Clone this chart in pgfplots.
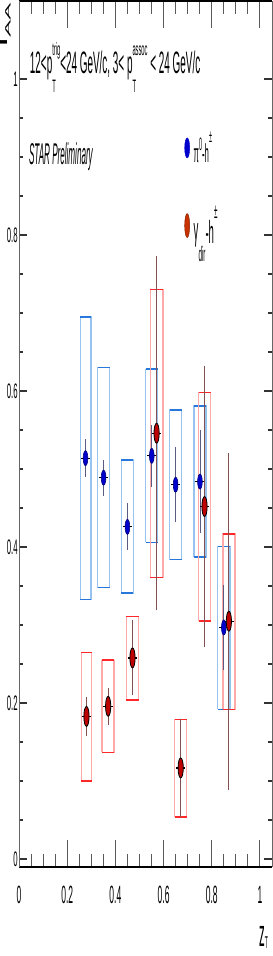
\documentclass[border=0pt]{standalone}
\usepackage{fontspec}
\setmainfont{Liberation Sans}
\usepackage{graphicx}
\usepackage{pgfplots}
\pgfplotsset{compat=1.18}
\definecolor{bmark}{RGB}{0,0,205}
\definecolor{rmark}{RGB}{190,0,0}
\definecolor{lred}{RGB}{200,50,0}
\definecolor{bside}{RGB}{150,195,240}
\definecolor{bedge}{RGB}{40,120,220}
\definecolor{rside}{RGB}{255,170,170}
\definecolor{redge}{RGB}{255,40,40}
\definecolor{bstat}{RGB}{90,90,130}
\definecolor{rstat}{RGB}{130,80,80}
\newcommand{\ssp}[3]{\makebox[0pt][l]{\raisebox{-0.6em}{\fontsize{#3}{#3}\selectfont #1}}\raisebox{0.58em}{\fontsize{#3}{#3}\selectfont #2}}
\pgfplotsset{frame/.style={
  scale only axis, width=253bp, height=866bp,
  at={(0,0)}, anchor=south west,
  xmin=0, xmax=1.05, ymin=-0.01, ymax=1.1,
  tick align=inside,
  separate axis lines,
  x axis line style={line width=2.6bp, black},
  y axis line style={line width=0.9bp, black!60},
  /pgf/number format/assume math mode=true,
}}
\begin{document}
\begin{tikzpicture}
\useasboundingbox (-19bp,-89bp) rectangle (254bp,867bp);
% x ticks only (long vertical ticks)
\begin{axis}[frame,
  xtick={0,0.2,0.4,0.6,0.8,1}, ytick=\empty,
  minor x tick num=3,
  major tick length=27bp, minor tick length=13bp,
  xtick style={line width=1bp, black!65},
  xticklabel style={font=\fontsize{25bp}{25bp}\selectfont, xscale=0.34, yshift=-16bp},
]
\end{axis}
% main axis with y ticks and data
\begin{axis}[frame,
  xtick=\empty, ytick={0,0.2,0.4,0.6,0.8,1},
  minor y tick num=3,
  major tick length=8bp, minor tick length=4bp,
  ytick style={line width=1.4bp, black!80},
  yticklabel style={font=\fontsize{21bp}{21bp}\selectfont, xscale=0.37},
  ylabel={\scalebox{1}[0.3]{\fontsize{37bp}{37bp}\selectfont I\raisebox{-0.25em}{\fontsize{26bp}{26bp}\selectfont AA}}},
  ylabel style={at={(axis description cs:-0.075,0.998)}, anchor=north east, inner sep=0pt},
  unbounded coords=jump,
  clip=false,
  legend style={at={(axis description cs:0.654,0.850)}, anchor=north west, draw=none, fill=none, inner sep=0pt, row sep=40bp, column sep=3bp, nodes={inner sep=1bp, anchor=west}},
  legend cell align=left,
  legend image code/.code={\draw[#1] plot coordinates {(0bp,0bp)};},
]
% blue systematic boxes
\addplot[bside, line width=1.4bp, forget plot] coordinates {
 (0.254,0.333) (0.254,0.695) (0.298,0.695) (0.298,0.333) (0.254,0.333) (nan,nan)
 (0.326,0.348) (0.326,0.630) (0.376,0.630) (0.376,0.348) (0.326,0.348) (nan,nan)
 (0.425,0.341) (0.425,0.512) (0.475,0.512) (0.475,0.341) (0.425,0.341) (nan,nan)
 (0.526,0.406) (0.526,0.628) (0.576,0.628) (0.576,0.406) (0.526,0.406) (nan,nan)
 (0.625,0.384) (0.625,0.576) (0.675,0.576) (0.675,0.384) (0.625,0.384) (nan,nan)
 (0.726,0.387) (0.726,0.581) (0.776,0.581) (0.776,0.387) (0.726,0.387) (nan,nan)
 (0.825,0.192) (0.825,0.401) (0.875,0.401) (0.875,0.192) (0.825,0.192)
};
\addplot[bedge, line width=1.6bp, forget plot] coordinates {
 (0.254,0.695) (0.298,0.695) (nan,nan) (0.254,0.333) (0.298,0.333) (nan,nan)
 (0.326,0.630) (0.376,0.630) (nan,nan) (0.326,0.348) (0.376,0.348) (nan,nan)
 (0.425,0.512) (0.475,0.512) (nan,nan) (0.425,0.341) (0.475,0.341) (nan,nan)
 (0.526,0.628) (0.576,0.628) (nan,nan) (0.526,0.406) (0.576,0.406) (nan,nan)
 (0.625,0.576) (0.675,0.576) (nan,nan) (0.625,0.384) (0.675,0.384) (nan,nan)
 (0.726,0.581) (0.776,0.581) (nan,nan) (0.726,0.387) (0.776,0.387) (nan,nan)
 (0.825,0.401) (0.875,0.401) (nan,nan) (0.825,0.192) (0.875,0.192)
};
% red systematic boxes
\addplot[rside, line width=1.4bp, forget plot] coordinates {
 (0.259,0.100) (0.259,0.265) (0.301,0.265) (0.301,0.100) (0.259,0.100) (nan,nan)
 (0.345,0.137) (0.345,0.255) (0.395,0.255) (0.395,0.137) (0.345,0.137) (nan,nan)
 (0.446,0.204) (0.446,0.311) (0.496,0.311) (0.496,0.204) (0.446,0.204) (nan,nan)
 (0.545,0.361) (0.545,0.730) (0.597,0.730) (0.597,0.361) (0.545,0.361) (nan,nan)
 (0.646,0.054) (0.646,0.179) (0.696,0.179) (0.696,0.054) (0.646,0.054) (nan,nan)
 (0.745,0.305) (0.745,0.598) (0.795,0.598) (0.795,0.305) (0.745,0.305) (nan,nan)
 (0.846,0.192) (0.846,0.417) (0.896,0.417) (0.896,0.192) (0.846,0.192)
};
\addplot[redge, line width=1.6bp, forget plot] coordinates {
 (0.259,0.265) (0.301,0.265) (nan,nan) (0.259,0.100) (0.301,0.100) (nan,nan)
 (0.345,0.255) (0.395,0.255) (nan,nan) (0.345,0.137) (0.395,0.137) (nan,nan)
 (0.446,0.311) (0.496,0.311) (nan,nan) (0.446,0.204) (0.496,0.204) (nan,nan)
 (0.545,0.730) (0.597,0.730) (nan,nan) (0.545,0.361) (0.597,0.361) (nan,nan)
 (0.646,0.179) (0.696,0.179) (nan,nan) (0.646,0.054) (0.696,0.054) (nan,nan)
 (0.745,0.598) (0.795,0.598) (nan,nan) (0.745,0.305) (0.795,0.305) (nan,nan)
 (0.846,0.417) (0.896,0.417) (nan,nan) (0.846,0.192) (0.896,0.192)
};
% blue statistical errors
\addplot[draw=none, mark=none, forget plot, error bars/.cd, y dir=both, y explicit, error mark=none,
  error bar style={bstat, line width=0.9bp}] table[x=x, y=y, y error=e] {
x y e
0.276 0.514 0.024
0.351 0.489 0.023
0.450 0.426 0.030
0.551 0.517 0.040
0.650 0.480 0.048
0.751 0.484 0.066
0.850 0.297 0.055
};
\addplot[draw=none, mark=none, forget plot, error bars/.cd, x dir=both, x explicit, error mark=none,
  error bar style={black, line width=1.3bp}] table[x=x, y=y, x error=e] {
x y e
0.276 0.514 0.02
0.351 0.489 0.02
0.450 0.426 0.02
0.551 0.517 0.02
0.650 0.480 0.02
0.751 0.484 0.02
0.850 0.297 0.02
};
\addplot[only marks, mark=*, mark size=7.5bp, mark options={xscale=0.31, fill=bmark, draw=bmark!60!black, line width=0.6bp}, forget plot] table[x=x, y=y] {
x y
0.276 0.514
0.351 0.489
0.450 0.426
0.551 0.517
0.650 0.480
0.751 0.484
0.850 0.297
};
% red statistical errors
\addplot[draw=none, mark=none, forget plot, error bars/.cd, y dir=both, y explicit, error mark=none,
  error bar style={rstat, line width=0.9bp}] table[x=x, y=y, y error=e] {
x y e
0.280 0.183 0.025
0.370 0.196 0.024
0.471 0.258 0.048
0.571 0.546 0.227
0.671 0.117 0.063
0.770 0.452 0.180
0.871 0.305 0.216
};
\addplot[draw=none, mark=none, forget plot, error bars/.cd, x dir=both, x explicit, error mark=none,
  error bar style={black, line width=1.3bp}] table[x=x, y=y, x error=e] {
x y e
0.280 0.183 0.02
0.370 0.196 0.02
0.471 0.258 0.02
0.571 0.546 0.02
0.671 0.117 0.02
0.770 0.452 0.02
0.871 0.305 0.02
};
\addplot[only marks, mark=*, mark size=10bp, mark options={xscale=0.26, fill=rmark, draw=black, line width=0.8bp}, forget plot] table[x=x, y=y] {
x y
0.280 0.183
0.370 0.196
0.471 0.258
0.571 0.546
0.671 0.117
0.770 0.452
0.871 0.305
};
% legend
\addlegendimage{only marks, mark=*, mark size=10bp, mark options={xscale=0.25, fill=bmark, draw=bmark}}
\addlegendentry{\scalebox{0.3}[1]{\fontsize{26bp}{26bp}\selectfont π\raisebox{0.45em}{\fontsize{18bp}{18bp}\selectfont 0}-h\raisebox{0.75em}{\fontsize{18bp}{18bp}\selectfont ±}}}
\addlegendimage{only marks, mark=*, mark size=12bp, mark options={xscale=0.21, fill=lred, draw=lred!60!black}}
\addlegendentry{\scalebox{0.3}[1]{\fontsize{32bp}{32bp}\selectfont\raisebox{0.12em}{γ}\raisebox{-0.55em}{\fontsize{21bp}{21bp}\selectfont dir}-h\raisebox{0.8em}{\fontsize{21bp}{21bp}\selectfont ±}}}
% texts
\node[anchor=base west, xscale=0.32, inner sep=0pt] at (rel axis cs:0.043,0.916)
  {\fontsize{31bp}{36bp}\selectfont 12<p\ssp{T}{trig}{18bp}<24 GeV/c, 3< p\ssp{T}{assoc}{18bp} < 24 GeV/c};
\node[anchor=base west, xscale=0.27, inner sep=0pt] at (rel axis cs:0.0395,0.811)
  {\fontsize{30bp}{30bp}\selectfont\itshape STAR Preliminary};
\node[anchor=base west, xscale=0.3, inner sep=0pt] at (rel axis cs:0.949,-0.092)
  {\fontsize{38bp}{38bp}\selectfont z\raisebox{-0.05em}{\fontsize{17bp}{17bp}\selectfont T}};
\end{axis}
\end{tikzpicture}
\end{document}
